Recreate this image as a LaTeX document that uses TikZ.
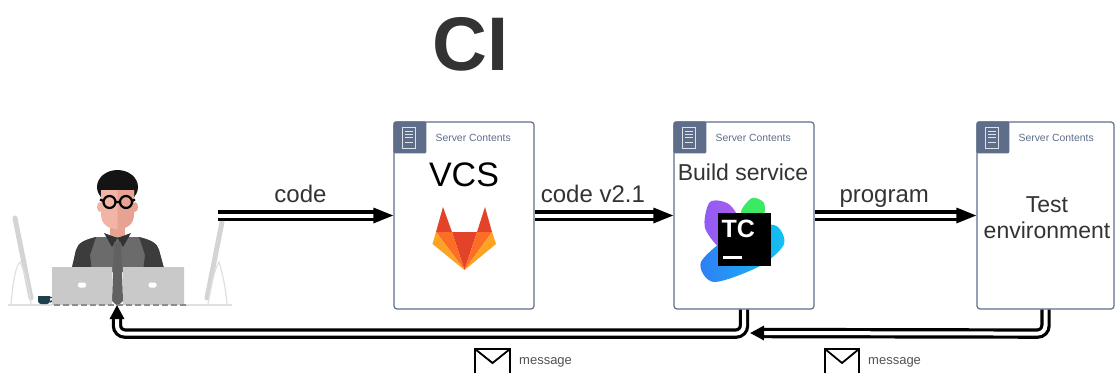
\documentclass[tikz,border=0pt]{standalone}
\usepackage{fontspec}
\setmainfont{Liberation Sans}
\usetikzlibrary{arrows.meta}
\definecolor{slate}{HTML}{5E6E8A}
\definecolor{ink}{HTML}{333333}
\definecolor{glred}{HTML}{E24329}
\definecolor{glorange}{HTML}{FC6D26}
\definecolor{gllight}{HTML}{FCA326}
\definecolor{tcpurple}{HTML}{8E5CF7}
\definecolor{tcpink}{HTML}{B35AE8}
\definecolor{tcgreen}{HTML}{3BEA62}
\definecolor{tcblue}{HTML}{2F7DF5}
\definecolor{tccyan}{HTML}{12C2F2}
\definecolor{skin}{HTML}{F2B4A4}
\definecolor{skindark}{HTML}{E7A292}
\definecolor{shirt}{HTML}{6B6B6B}
\definecolor{sleeve}{HTML}{3C3C3C}
\definecolor{laptop}{HTML}{C9C9C9}
\definecolor{cup}{HTML}{1E3F4C}
\begin{document}
\begin{tikzpicture}[x=1pt, y=-1pt,
    server/.style={draw=slate, line width=1.2pt, rounded corners=3pt, fill=white,
      minimum width=140pt, minimum height=187pt, inner sep=0pt},
    pipe/.style={draw=black, line width=3.2pt, double=white, double distance=4pt,
      -{Triangle[length=20pt, width=15pt]}},
    back/.style={-{Triangle[length=14pt, width=14pt]}, rounded corners=8pt},
    lbl/.style={anchor=base, yshift=13.5pt, text=ink, font=\fontsize{24}{28}\selectfont},
    boxtext/.style={anchor=base, text=ink, font=\fontsize{23}{26}\selectfont},
    msg/.style={anchor=base west, inner sep=0pt, text=ink!85, font=\fontsize{13}{15}\selectfont},
    mail/.style={draw=black, line width=1.8pt, line join=miter},
    monitor/.style={draw=black!17, line width=5pt, line cap=round},
    stand/.style={draw=black!12, line width=1.2pt}]
  \useasboundingbox (0,0) rectangle (1115,372);
  \node[anchor=base, text=ink, font=\fontsize{76}{80}\selectfont\bfseries] (title) at (470.5,70) {CI};

  \draw[monitor] (15,218) -- (31,298);
  \draw[monitor] (222,222) -- (207,298);
  \draw[stand] (11,305) .. controls (13,280) and (16,266) .. (20,262) .. controls (25,272) and (29,288) .. (31,304);
  \draw[stand] (208,304) .. controls (211,285) and (215,268) .. (219,262) .. controls (223,275) and (226,290) .. (227,305);
  \draw[stand] (8,305) -- (52,305) (186,305) -- (232,305);
  \fill[cup] (38,296) -- (50,296) -- (50,301) arc[start angle=0, end angle=90, radius=3] -- (41,304) arc[start angle=90, end angle=180, radius=3] -- cycle;
  \draw[cup, line width=1.4pt] (50,297.5) -- (53,297.5) -- (53,300.5) -- (50,302);

  \fill[black!92] (117.5,187) ellipse (20.5 and 17);
  \fill[skin] (100,207) ellipse (3 and 5);
  \fill[skindark] (135,207) ellipse (3 and 5);
  \fill[skindark] (110,222) rectangle (125,240);
  \fill[skin] (101,190) -- (134,190) -- (134,214) .. controls (134,225) and (126,229) .. (117.5,229) .. controls (109,229) and (101,225) .. (101,214) -- cycle;
  \fill[skindark] (117.5,190) -- (134,190) -- (134,214) .. controls (134,225) and (126,229) .. (117.5,229) -- cycle;
  \draw[black, line width=2.2pt] (109.5,202) circle (6) (126,202) circle (6) (115.5,202) -- (120,202) (103.5,201) -- (100,199.5) (132,201) -- (135,199.5);
  \fill[shirt] (71,272) -- (76,250) .. controls (78,243) and (84,240) .. (96,237) -- (139,237) .. controls (151,240) and (157,243) .. (159,250) -- (165,272) -- cycle;
  \fill[sleeve] (71,272) -- (76,250) .. controls (78,243) and (84,240) .. (96,237) -- (90,255) -- (92,272) -- cycle;
  \fill[sleeve] (165,272) -- (159,250) .. controls (157,243) and (151,240) .. (139,237) -- (145,255) -- (143,272) -- cycle;
  \fill[black!80] (104,233) -- (117.5,238) -- (112,247) -- cycle (131,233) -- (117.5,238) -- (123,247) -- cycle;
  \fill[black!62] (114,242) -- (121,242) -- (123,301) -- (117.5,306) -- (112,301) -- cycle;
  \fill[laptop] (52,267) rectangle (112,305) (123,267) rectangle (184,305);
  \fill[white, rounded corners=2pt] (78,282.5) rectangle (86,287.5) (148.5,282.5) rectangle (156.5,287.5);
  \draw[black!45, line width=2pt, dash pattern=on 6pt off 3pt] (54,305) -- (186,305);

  \node[server] (vcs) at (464,215.5) {};
  \node[server] (build) at (744,215.5) {};
  \node[server, minimum width=137pt] (test) at (1045.5,215.5) {};
  \foreach \s in {vcs,build,test}{
    \fill[slate, rounded corners=2pt] (\s.north west) rectangle ++(33,32);
    \draw[white!80!slate, line width=0.9pt] ([shift={(9.5,6)}]\s.north west) rectangle ++(13,21);
    \draw[white!80!slate, line width=0.8pt] ([shift={(12,10)}]\s.north west) -- ++(8,0) ++(-8,3) -- ++(8,0) ++(-8,3) -- ++(8,0) ++(-8,5) -- ++(8,0);
    \node[anchor=west, inner sep=0pt, text=slate, font=\fontsize{10.4}{12}\selectfont] (\s-tag) at ([shift={(42,17)}]\s.north west) {Server Contents};
  }

  \node[anchor=base, text=black, font=\fontsize{34}{38}\selectfont] (vcsname) at (464,186) {VCS};
  \fill[glred] (443,207) -- (452,232) -- (436,232) -- cycle (485,207) -- (477,232) -- (492,232) -- cycle (452,232) -- (477,232) -- (464.5,270) -- cycle;
  \fill[glorange] (436,232) -- (452,232) -- (464.5,270) -- cycle (492,232) -- (477,232) -- (464.5,270) -- cycle;
  \fill[gllight] (436,232) -- (432.5,244) -- (464.5,270) -- cycle (492,232) -- (496,244) -- (464.5,270) -- cycle;

  \node[boxtext] (buildname) at (743,180) {Build service};
  \shade[left color=tcpurple, right color=tcpink] plot[smooth cycle] coordinates {(710,202) (730,205) (744,232) (724,250) (705,228)};
  \fill[tcgreen] plot[smooth cycle] coordinates {(741,212) (752,198) (764,203) (763,219) (750,226)};
  \shade[left color=tcblue, right color=tccyan] plot[smooth cycle] coordinates {(701,262) (735,233) (774,225) (784,244) (760,266) (714,282)};
  \fill[black] (718,213) rectangle (771,266);
  \node[anchor=base west, inner sep=0pt, text=white, font=\fontsize{25}{25}\selectfont\bfseries] (tclogo) at (721.5,237) {TC};
  \fill[white] (723,255.5) rectangle (742,258.5);

  \node[boxtext] (testname) at (1047,212) {Test};
  \node[boxtext] (envname) at (1047,238) {environment};

  \coordinate (dev) at (218,215.5);
  \coordinate (desk) at (117,305);
  \coordinate (join) at (750,333);
  \draw[pipe] (dev) -- (vcs) node[lbl, pos=.47] {code};
  \draw[pipe] (vcs) -- (build) node[lbl, pos=.42] {code v2.1};
  \draw[pipe] (build) -- (test) node[lbl, pos=.43] {program};
  \draw[pipe, back] (build.south) -- ++(0,24) -| (desk);
  \draw[pipe, back] (test.south) -- ++(0,24) -- (join);

  \draw[mail] (475,349) rectangle (510,382) (475,349) -- (492.5,363) -- (510,349);
  \node[msg] (msg1) at (519,364) {message};
  \draw[mail] (825,349) rectangle (859,382) (825,349) -- (842,363) -- (859,349);
  \node[msg] (msg2) at (868,364) {message};
\end{tikzpicture}
\end{document}
